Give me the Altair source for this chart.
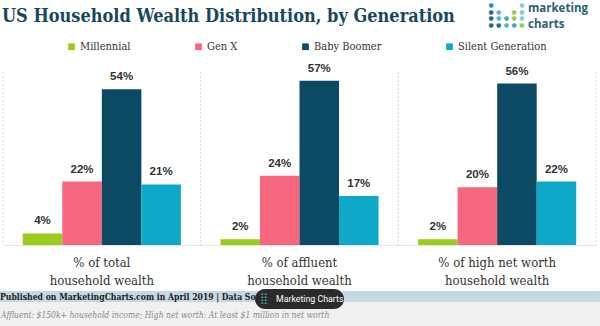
import altair as alt
import pandas as pd

groups = ["% of total|household wealth", "% of affluent|household wealth", "% of high net worth|household wealth"]
generations = ["Millennial", "Gen X", "Baby Boomer", "Silent Generation"]
colors = ["#9bcb1b", "#f6667e", "#0b4a62", "#10a8c8"]
total_wealth = [4, 22, 54, 21]
affluent_wealth = [2, 24, 57, 17]
high_net_worth = [2, 20, 56, 22]

title_text = "US Household Wealth Distribution, by Generation"
footer_text = "Published on MarketingCharts.com in April 2019 | Data Source: Bankrate"
note_text = "Affluent: $150k+ household income; High net worth: At least $1 million in net worth"

rows = []
for g, vals in zip(groups, [total_wealth, affluent_wealth, high_net_worth]):
    for gen, v in zip(generations, vals):
        rows.append({"group": g, "generation": gen, "value": v, "label": f"{v}%"})
df = pd.DataFrame(rows)
gdf = pd.DataFrame({"group": groups})
one = pd.DataFrame({"k": [0]})

W, H = 593, 173
SERIF = "DejaVu Serif Condensed"

xenc = alt.X("group:N", sort=groups, title=None,
             scale=alt.Scale(paddingInner=0, paddingOuter=0),
             axis=alt.Axis(labelAngle=0, labelAlign="center", labelBaseline="top",
                           labelExpr="split(datum.label, '|')",
                           ticks=False, domain=True, domainColor="#e6e6e6",
                           grid=False, labelFont=SERIF, labelFontSize=13,
                           labelColor="#333333", labelPadding=11, labelLineHeight=18))
xoff = alt.XOffset("generation:N", sort=generations,
                   scale=alt.Scale(paddingInner=0, paddingOuter=0.5))
yenc = alt.Y("value:Q", scale=alt.Scale(domain=[0, 60]), axis=None)

bars = alt.Chart(df).mark_bar().encode(
    x=xenc, xOffset=xoff, y=yenc,
    color=alt.Color("generation:N", sort=generations,
                    scale=alt.Scale(domain=generations, range=colors),
                    legend=alt.Legend(title=None, orient="none", legendX=63, legendY=-31,
                                      direction="horizontal", columns=4, gridAlign="each",
                                      columnPadding=62, symbolType="square", symbolSize=45,
                                      symbolStrokeWidth=0, labelFont=SERIF, labelFontSize=11,
                                      labelOffset=3, labelColor="#333333", padding=0))
)

labels = alt.Chart(df).mark_text(dy=-7, fontWeight="bold", font="Liberation Sans",
                                 fontSize=11.5, color="#333333", baseline="bottom").encode(
    x=alt.X("group:N", sort=groups), xOffset=xoff, y=yenc, text="label:N")

sep0 = alt.Chart(gdf).mark_rule(color="#dcdcdc", strokeDash=[2, 2], strokeWidth=1).encode(
    x=alt.X("group:N", sort=groups, bandPosition=0))
sep1 = alt.Chart(gdf).mark_rule(color="#dcdcdc", strokeDash=[2, 2], strokeWidth=1).encode(
    x=alt.X("group:N", sort=groups, bandPosition=1))

title = alt.Chart(one).mark_text(text=title_text, font=SERIF, fontWeight="bold",
                                 fontSize=18, color="#17485a", align="left",
                                 baseline="middle").encode(x=alt.value(-1), y=alt.value(-55))

# logo dot grid (decoration): rows of 5 columns, "." = no dot
logo_pattern = ["a...e", "bc.de", "bcfde", "bbcfd"]
logo_colors = {"a": "#2a8fa6", "b": "#1f6f8a", "c": "#5bb7c4", "d": "#9ccc4a", "e": "#7fd3cc", "f": "#3fa9c0"}
logo = []
for r, row in enumerate(logo_pattern):
    for c, ch in enumerate(row):
        if ch == ".":
            continue
        logo.append(alt.Chart(one).mark_text(text="●", fontSize=6, color=logo_colors[ch],
                                             align="center", baseline="middle",
                                             font="DejaVu Sans").encode(
            x=alt.value(488 + c * 7.7), y=alt.value(-67 + r * 6.7)))
logo_t1 = alt.Chart(one).mark_text(text="marketing", font="Open Sans", fontWeight="bold",
                                   fontSize=11.5, color="#2b6070", align="left",
                                   baseline="middle").encode(x=alt.value(525), y=alt.value(-63))
logo_t2 = alt.Chart(one).mark_text(text="charts", font="Open Sans", fontWeight="bold",
                                   fontSize=11.5, color="#2b6070", align="left",
                                   baseline="middle").encode(x=alt.value(525), y=alt.value(-47))

band_grey = alt.Chart(one).mark_rect(color="#f1f1f1").encode(
    x=alt.value(-3), x2=alt.value(597), y=alt.value(230), y2=alt.value(254))
band_blue = alt.Chart(one).mark_rect(color="#c3d9e4").encode(
    x=alt.value(-3), x2=alt.value(597), y=alt.value(219), y2=alt.value(230))
footer = alt.Chart(one).mark_text(text=footer_text, font=SERIF, fontWeight="bold", fontSize=8.6,
                                  color="#222222", align="left", baseline="middle").encode(
    x=alt.value(-3), y=alt.value(224.5))
note = alt.Chart(one).mark_text(text=note_text, font=SERIF, fontStyle="italic", fontSize=8.5,
                                color="#8a8a8a", align="left", baseline="middle").encode(
    x=alt.value(-2), y=alt.value(243))
pill = alt.Chart(one).mark_rect(color="#2b2b2b", cornerRadius=10).encode(
    x=alt.value(252), x2=alt.value(341), y=alt.value(217), y2=alt.value(237))
pill_icon = alt.Chart(one).mark_text(text="⣿", font="DejaVu Sans", fontSize=11, color="#3fb3a8",
                                     align="left", baseline="middle").encode(
    x=alt.value(257), y=alt.value(227))
pill_text = alt.Chart(one).mark_text(text="Marketing Charts", font="Roboto", fontSize=8.8,
                                     color="#ffffff", align="left", baseline="middle").encode(
    x=alt.value(273), y=alt.value(227))

chart = alt.layer(
    sep0, sep1, bars, labels, title, *logo, logo_t1, logo_t2,
    band_grey, band_blue, footer, note, pill, pill_icon, pill_text
).properties(
    width=W, height=H,
    padding={"left": 3, "top": 72, "right": 4, "bottom": 81},
    autosize=alt.AutoSizeParams(type="none"),
    background="#ffffff",
).configure_view(stroke=None)

chart.save("out.html", embed_options={"renderer": "svg", "actions": False})
